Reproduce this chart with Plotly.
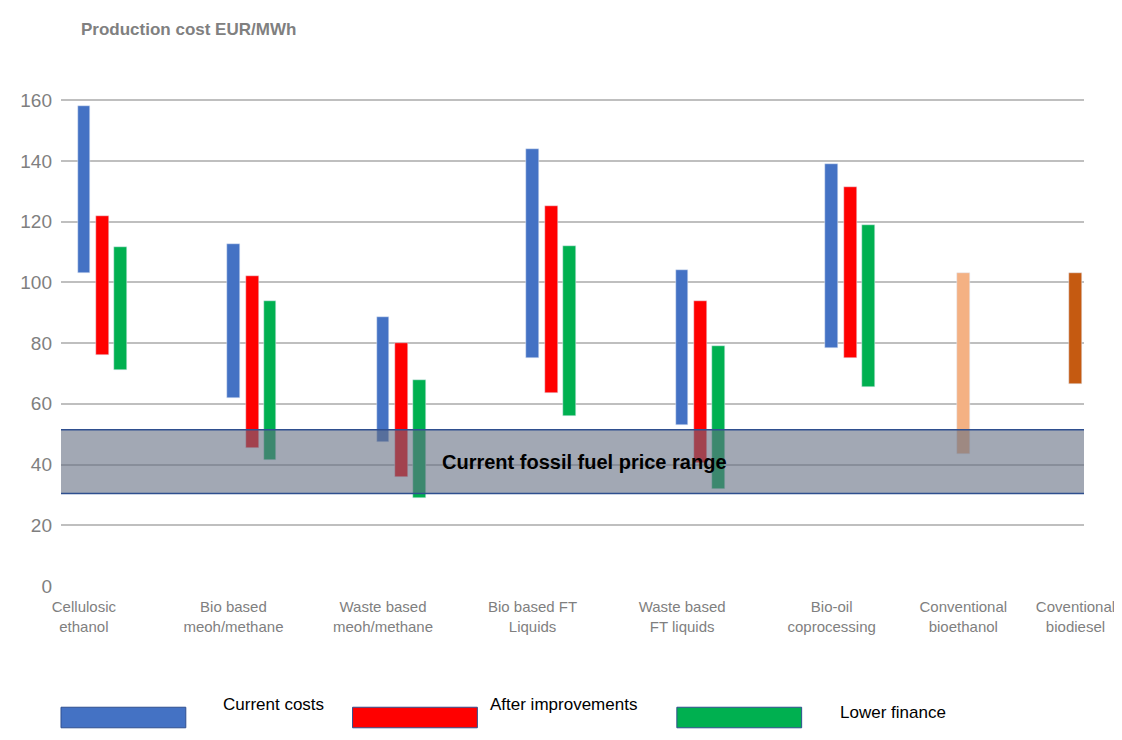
import plotly.graph_objects as go

# category labels and x positions (group units)
categories = ["Cellulosic<br>ethanol", "Bio based<br>meoh/methane", "Waste based<br>meoh/methane",
              "Bio based FT<br>Liquids", "Waste based<br>FT liquids", "Bio-oil<br>coprocessing",
              "Conventional<br>bioethanol", "Coventional<br>biodiesel"]
cat_x = [0, 1, 2, 3, 4, 5, 5.88, 6.63]

# ranges (low, high) EUR/MWh
current_low = [103, 62, 47.5, 75, 53, 78.5]
current_high = [158, 112.5, 88.5, 144, 104, 139]
improved_low = [76, 45.5, 36, 63.5, 40.5, 75]
improved_high = [122, 102, 80, 125, 94, 131.5]
finance_low = [71, 41.5, 29, 56, 32, 65.5]
finance_high = [111.5, 94, 68, 112, 79, 119]
conv_low = [43.5, 66.5]
conv_high = [103, 103]
conv_colors = ["#F4B183", "#C55A11"]
fossil_range = (30.5, 51.5)

w = 0.085
fig = go.Figure()
fig.add_bar(x=cat_x[:6], base=current_low, y=[h - l for h, l in zip(current_high, current_low)],
            width=w, marker_color="#4472C4", name="Current costs")
fig.add_bar(x=[x + 0.125 for x in cat_x[:6]], base=improved_low,
            y=[h - l for h, l in zip(improved_high, improved_low)],
            width=w, marker_color="#FF0000", name="After improvements")
fig.add_bar(x=[x + 0.245 for x in cat_x[:6]], base=finance_low,
            y=[h - l for h, l in zip(finance_high, finance_low)],
            width=w, marker_color="#00B050", name="Lower finance")
fig.add_bar(x=cat_x[6:], base=conv_low, y=[h - l for h, l in zip(conv_high, conv_low)],
            width=w, marker_color=conv_colors, name="Conventional")

fig.add_shape(type="rect", xref="x", yref="y", x0=-0.23, x1=6.77,
              y0=fossil_range[0], y1=fossil_range[1], layer="above",
              fillcolor="rgba(100,110,130,0.6)", line=dict(color="#2F4F8F", width=1.5))
fig.add_annotation(x=3.35, y=41, xref="x", yref="y", text="<b>Current fossil fuel price range</b>",
                   showarrow=False, font=dict(size=20, color="black"))

fig.add_annotation(x=0.018, y=1.11, xref="paper", yref="paper", xanchor="left", yanchor="middle",
                   text="<b>Production cost EUR/MWh</b>", showarrow=False,
                   font=dict(size=17, color="#808080"))

# manual legend
legend = [("Current costs", "#4472C4", 0.0, 0.156, -0.26), ("After improvements", "#FF0000", 0.285, 0.417, -0.26),
          ("Lower finance", "#00B050", 0.602, 0.76, -0.275)]
for name, col, x0, xt, yt in legend:
    fig.add_shape(type="rect", xref="paper", yref="paper", x0=x0, x1=x0 + 0.122,
                  y0=-0.283, y1=-0.242, fillcolor=col, line=dict(color="#2F4F8F", width=1))
    fig.add_annotation(x=xt, y=yt, xref="paper", yref="paper", xanchor="left",
                       text=name, showarrow=False, font=dict(size=17, color="black"))

fig.update_layout(
    width=1122, height=740, showlegend=False, plot_bgcolor="white", paper_bgcolor="white",
    margin=dict(l=50, r=46, t=77, b=162),
    font=dict(family="Liberation Sans Narrow, Arial Narrow, sans-serif", color="#7F7F7F", size=16),
    bargap=0,
)
fig.update_xaxes(range=[-0.153, 6.687], tickvals=cat_x, ticktext=categories, showgrid=False,
                 zeroline=False, tickfont=dict(size=15, color="#7F7F7F"), ticklabelstandoff=10)
fig.update_yaxes(range=[0, 165], tickvals=list(range(0, 161, 20)), gridcolor="#BFBFBF", gridwidth=1.5,
                 zeroline=False, tickfont=dict(size=19, color="#7F7F7F"), ticklabelstandoff=8)

fig.write_html("out.html")
